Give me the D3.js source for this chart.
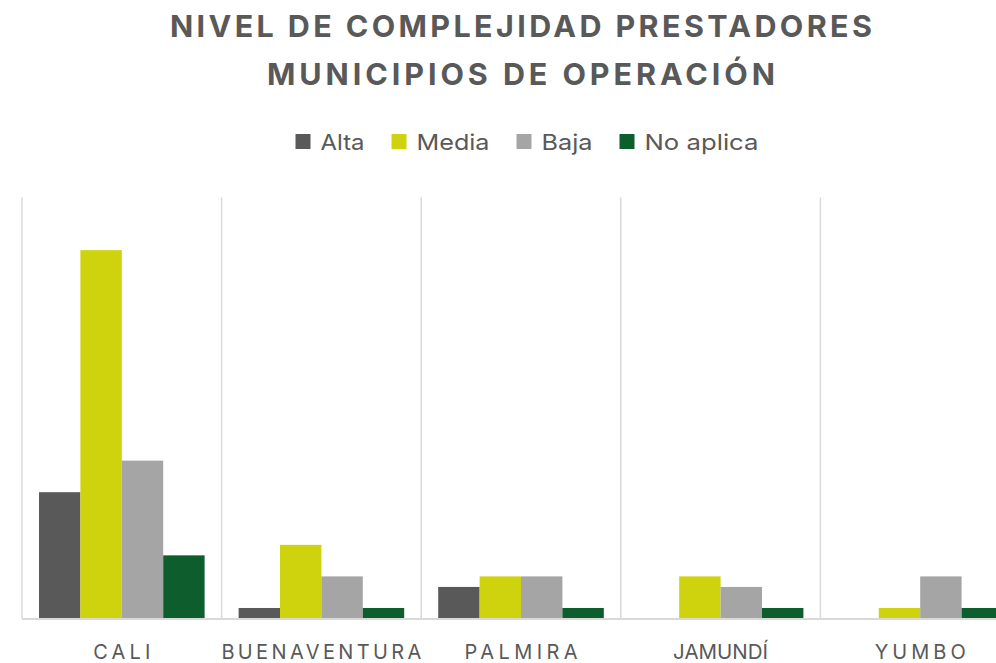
<!DOCTYPE html>
<html>
<head>
<meta charset="utf-8">
<script src="https://cdn.jsdelivr.net/npm/d3@7"></script>
<style>
  html, body { margin: 0; padding: 0; background: #fff; }
  svg { display: block; font-family: Inter, "Open Sans", sans-serif; }
</style>
</head>
<body>
<div id="chart"></div>
<script>
// data
const categories = ["CALI", "BUENAVENTURA", "PALMIRA", "JAMUNDÍ", "YUMBO"];
const seriesNames = ["Alta", "Media", "Baja", "No aplica"];
const alta = [12, 1, 3, 0, 0];
const media = [35, 7, 4, 4, 1];
const baja = [15, 4, 4, 3, 4];
const noAplica = [6, 1, 1, 1, 1];
const titleLines = ["NIVEL DE COMPLEJIDAD PRESTADORES", "MUNICIPIOS DE OPERACIÓN"];

const seriesValues = [alta, media, baja, noAplica];
const colors = ["#595959", "#CFD30D", "#A5A5A5", "#0E5E2D"];

const width = 996, height = 663;
const textColor = "#595959";
const gridColor = "#D9D9D9";

// per-label widths so the letter-spaced look of the original carries over
const labelWidth = { "CALI": 57, "BUENAVENTURA": 200, "PALMIRA": 113, "JAMUNDÍ": 95, "YUMBO": 91 };

const svg = d3.select("#chart")
  .append("svg")
  .attr("width", width)
  .attr("height", height);

// plot area runs a bit past the right edge, like the original
const x0 = d3.scaleBand()
  .domain(categories)
  .range([22, 1020]);

const x1 = d3.scaleBand()
  .domain(seriesNames)
  .range([17, x0.bandwidth() - 17]);

const y = d3.scaleLinear()
  .domain([0, 40])
  .range([618.5, 197.5]);

// title
const titleWidths = [702, 508];
svg.append("g")
  .selectAll("text")
  .data(titleLines)
  .join("text")
  .attr("x", 521)
  .attr("y", (d, i) => 37 + i * 48)
  .attr("text-anchor", "middle")
  .attr("textLength", (d, i) => titleWidths[i])
  .attr("lengthAdjust", "spacing")
  .style("font-size", "30.5px")
  .style("font-weight", "700")
  .style("fill", textColor)
  .text(d => d);

// legend, laid out from measured text widths
const legend = svg.append("g");
const legendTextW = [44, 73, 51, 114];
const sq = 15, gapIn = 10, gapOut = 27;
const totalW = d3.sum(legendTextW, w => sq + gapIn + w) + gapOut * (legendTextW.length - 1);
let lx = 527 - totalW / 2;
seriesNames.forEach((name, i) => {
  const g = legend.append("g").attr("transform", `translate(${lx},0)`);
  g.append("rect")
    .attr("x", 0).attr("y", 134)
    .attr("width", sq).attr("height", sq)
    .attr("fill", colors[i]);
  g.append("text")
    .attr("x", sq + gapIn)
    .attr("y", 150)
    .attr("textLength", legendTextW[i])
    .attr("lengthAdjust", "spacingAndGlyphs")
    .style("font-size", "22px")
    .style("fill", textColor)
    .text(name);
  lx += sq + gapIn + legendTextW[i] + gapOut;
});

// vertical gridlines at category boundaries
const bounds = categories.map(c => x0(c)).concat([x0.range()[1]]);
svg.append("g")
  .selectAll("line")
  .data(bounds)
  .join("line")
  .attr("x1", d => d).attr("x2", d => d)
  .attr("y1", y(40)).attr("y2", y(0))
  .attr("stroke", gridColor)
  .attr("stroke-width", 1.5);

// bars
const groups = svg.append("g")
  .selectAll("g")
  .data(categories)
  .join("g")
  .attr("transform", d => `translate(${x0(d)},0)`);

groups.selectAll("rect")
  .data((c, ci) => seriesNames.map((s, si) => ({ s, si, v: seriesValues[si][ci] })))
  .join("rect")
  .attr("x", d => x1(d.s))
  .attr("width", x1.bandwidth())
  .attr("y", d => y(d.v))
  .attr("height", d => y(0) - y(d.v))
  .attr("fill", d => colors[d.si]);

// baseline
svg.append("line")
  .attr("x1", 22).attr("x2", width)
  .attr("y1", y(0) + 0.5).attr("y2", y(0) + 0.5)
  .attr("stroke", gridColor)
  .attr("stroke-width", 2);

// category labels
svg.append("g")
  .selectAll("text")
  .data(categories)
  .join("text")
  .attr("x", d => x0(d) + x0.bandwidth() / 2)
  .attr("y", 659)
  .attr("text-anchor", "middle")
  .attr("textLength", d => labelWidth[d])
  .attr("lengthAdjust", d => d === "JAMUNDÍ" ? "spacingAndGlyphs" : "spacing")
  .style("font-size", "20px")
  .style("fill", textColor)
  .text(d => d);
</script>
</body>
</html>
